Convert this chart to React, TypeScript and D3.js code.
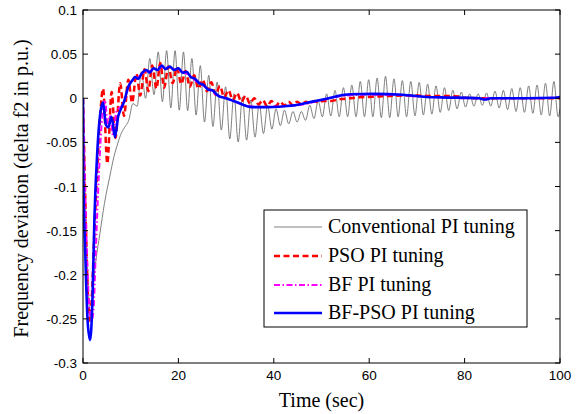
import React from 'react';
import * as d3 from 'd3';

const xTicks = [0, 20, 40, 60, 80, 100];
const xTickLabels = ['0', '20', '40', '60', '80', '100'];
const yTicks = [0.1, 0.05, 0, -0.05, -0.1, -0.15, -0.2, -0.25, -0.3];
const yTickLabels = ['0.1', '0.05', '0', '-0.05', '-0.1', '-0.15', '-0.2', '-0.25', '-0.3'];
const legendLabels = ['Conventional PI tuning', 'PSO PI tuning', 'BF PI tuning', 'BF-PSO PI tuning'];

// Conventional PI tuning (oscillating response: initial dip then successive peaks / troughs)
const convT = [0, 0.3, 0.8, 1.3, 1.6, 2.1, 2.8, 3.5, 4.5, 5.6, 6.5, 7.3, 8.0,
  8.71, 9.59, 10.47, 11.35, 12.24, 13.12, 14.0, 14.88, 15.77, 16.65, 17.53, 18.41, 19.3, 20.18,
  21.06, 21.94, 22.83, 23.71, 24.59, 25.47, 26.36, 27.24, 28.12, 29.0, 29.89, 30.77, 31.65, 32.53,
  33.42, 34.3, 35.18, 36.06, 36.95, 37.83, 38.71, 39.59, 40.48, 41.36, 42.24, 43.12, 44.01, 44.89,
  45.77, 46.65, 47.54, 48.42, 49.3, 50.18, 51.07, 51.95, 52.83, 53.71, 54.6, 55.48, 56.36, 57.24,
  58.13, 59.01, 59.89, 60.77, 61.66, 62.54, 63.42, 64.3, 65.19, 66.07, 66.95, 67.83, 68.72, 69.6,
  70.48, 71.36, 72.25, 73.13, 74.01, 74.89, 75.78, 76.66, 77.54, 78.42, 79.31, 80.19, 81.07, 81.95,
  82.84, 83.72, 84.6, 85.48, 86.37, 87.25, 88.13, 89.01, 89.9, 90.78, 91.66, 92.54, 93.43, 94.31,
  95.19, 96.07, 96.96, 97.84, 98.72, 99.6, 100];
const convV = [0, -0.07, -0.17, -0.235, -0.25, -0.215, -0.18, -0.155, -0.119, -0.089, -0.066, -0.051, -0.04,
  -0.033, -0.025, -0.006, -0.009, 0.03, 0.0, 0.045, 0.004, 0.0525, -0.004, 0.054, -0.011, 0.054, -0.0135,
  0.0525, -0.014, 0.045, -0.019, 0.037, -0.027, 0.026, -0.032, 0.0185, -0.036, 0.013, -0.046, 0.005, -0.0495,
  0.0015, -0.0475, -0.002, -0.044, -0.006, -0.04, -0.008, -0.035, -0.012, -0.031, -0.0135, -0.029, -0.015, -0.027,
  -0.015, -0.025, -0.008, -0.023, -0.003, -0.021, 0.005, -0.02, 0.009, -0.021, 0.012, -0.021, 0.015, -0.021,
  0.019, -0.021, 0.021, -0.021, 0.023, -0.022, 0.025, -0.022, 0.022, -0.021, 0.02, -0.021, 0.019, -0.02,
  0.018, -0.019, 0.016, -0.018, 0.014, -0.016, 0.012, -0.014, 0.009, -0.012, 0.007, -0.01, 0.005, -0.009,
  0.005, -0.008, 0.006, -0.009, 0.008, -0.011, 0.009, -0.013, 0.011, -0.015, 0.012, -0.016, 0.014, -0.017,
  0.015, -0.019, 0.017, -0.02, 0.019, -0.021, -0.012];

// PSO PI tuning
const psoT = [0, 0.5, 1.0, 1.4, 1.8, 2.4, 3.0, 3.6, 4.2, 5.1, 6.0, 6.8, 7.8, 8.6, 9.5, 10.3, 11.2, 12.0,
  12.9, 13.7, 14.5, 15.4, 16.2, 17.0, 17.9, 18.8, 19.7, 20.6, 21.5, 22.4, 23.3, 24.2, 25.1, 26.0, 26.9,
  27.8, 28.7, 29.6, 30.5, 31.4, 32.3, 33.2, 34.1, 35.0, 35.9, 36.8, 37.7, 38.6, 39.5, 40.4, 41.3, 42.2,
  43.1, 44.0, 44.9, 45.8, 46.7, 47.6, 48.5, 49.4, 50.3, 52, 54, 56, 58, 60, 62, 64, 67, 70, 73, 76, 79,
  80, 85, 90, 95, 100];
const psoV = [0, -0.12, -0.22, -0.252, -0.23, -0.15, -0.08, -0.02, 0.011, -0.074, 0.007, -0.045, 0.017,
  -0.02, 0.021, -0.005, 0.028, 0.003, 0.033, 0.008, 0.037, 0.011, 0.04, 0.012, 0.036, 0.017, 0.035, 0.016,
  0.031, 0.013, 0.026, 0.011, 0.021, 0.008, 0.018, 0.004, 0.014, 0.001, 0.009, -0.002, 0.006, -0.004, 0.003,
  -0.006, 0.0, -0.007, -0.002, -0.009, -0.003, -0.009, -0.004, -0.008, -0.004, -0.008, -0.004, -0.007, -0.004,
  -0.006, -0.003, -0.005, -0.003, -0.003, -0.001, 0.0, 0.001, 0.0015, 0.002, 0.0025, 0.003, 0.003, 0.0025,
  0.0025, 0.002, 0.0005, 0.0, 0.0, 0.0, 0.0];

// BF PI tuning
const bfT = [0, 0.3, 0.8, 1.3, 1.8, 2.2, 2.7, 3.3, 3.9, 4.6, 5.2, 5.7, 6.3, 7.0, 7.8, 8.6, 9.4, 10.3, 11.2,
  12.1, 13.0, 14.0, 15.0, 16.0, 17.0, 18.0, 19.0, 20.0, 21.0, 22.0, 23.0, 24.0, 25.0, 26.0, 27.0, 28.0,
  30, 32, 35, 38, 42, 45, 50, 55, 60, 65, 70, 75, 80, 85, 90, 95, 100];
const bfV = [0, -0.07, -0.17, -0.235, -0.252, -0.24, -0.17, -0.09, -0.03, -0.002, -0.03, -0.02, -0.042,
  -0.015, -0.01, -0.005, 0.012, 0.02, 0.022, 0.026, 0.03, 0.031, 0.033, 0.035, 0.035, 0.035, 0.033, 0.032,
  0.03, 0.027, 0.023, 0.018, 0.015, 0.011, 0.008, 0.004, 0.0, -0.004, -0.009, -0.01, -0.009, -0.008, -0.002,
  0.003, 0.004, 0.004, 0.002, 0.001, 0.0, 0.0, 0.0, 0.0, 0.001];

// BF-PSO PI tuning
const bfpsoT = [0, 0.05, 0.5, 1.0, 1.5, 2.0, 2.4, 3.0, 3.6, 4.2, 4.8, 5.3, 6.0, 6.7, 7.4, 7.8, 8.6, 9.5,
  10.3, 10.9, 11.6, 12.3, 13.3, 14.0, 14.8, 15.6, 16.5, 17.3, 18.2, 19.1, 20.0, 20.9, 21.7, 22.6, 23.5,
  24.4, 25.3, 26.2, 27.1, 28.3, 30, 32, 35.4, 38.2, 42.3, 44.4, 47, 50.3, 53, 56, 60.8, 67, 72, 75, 83,
  84.3, 85.5, 92.7, 99, 100];
const bfpsoV = [0, -0.08, -0.18, -0.255, -0.274, -0.225, -0.135, -0.06, -0.018, -0.005, -0.03, -0.033,
  -0.021, -0.044, -0.02, -0.014, -0.004, 0.013, 0.02, 0.024, 0.022, 0.028, 0.032, 0.029, 0.034, 0.032,
  0.037, 0.033, 0.036, 0.032, 0.034, 0.029, 0.03, 0.024, 0.022, 0.017, 0.015, 0.01, 0.009, 0.003, 0.0,
  -0.004, -0.01, -0.01, -0.009, -0.008, -0.005, -0.0015, 0.002, 0.0045, 0.005, 0.004, 0.0015, 0.001, 0.0,
  -0.0015, 0.0, 0.0, 0.0005, 0.0015];

export default function App() {
  const W = 584, H = 414;
  const L = 83, R = 560, T = 10, B = 363;
  const x = d3.scaleLinear().domain([0, 100]).range([L, R]);
  const y = d3.scaleLinear().domain([-0.3, 0.1]).range([B, T]);
  const mk = (ts: number[], vs: number[]) =>
    d3.line<number>().x((_, i) => x(ts[i])).y((v) => y(v)).curve(d3.curveMonotoneX)(vs) || '';

  const series = [
    { d: mk(convT, convV), stroke: '#606060', w: 0.8, dash: undefined as string | undefined },
    { d: mk(psoT, psoV), stroke: '#ff0000', w: 2.5, dash: '6,3.5' },
    { d: mk(bfT, bfV), stroke: '#ff00ff', w: 2, dash: '6,2.5,1.5,2.5' },
    { d: mk(bfpsoT, bfpsoV), stroke: '#0000ff', w: 2.6, dash: undefined },
  ];

  const tickLen = 5;
  const lgX = 264, lgY = 210, lgW = 263, lgH = 117;
  const rowY = [227, 256, 285, 313];

  return (
    <svg width={W} height={H} style={{ position: 'absolute', left: 0, top: 0, background: '#fff' }}>
      <rect x={0} y={0} width={W} height={H} fill="#fff" />
      <defs>
        <clipPath id="plotclip">
          <rect x={L} y={T - 2} width={R - L} height={B - T + 4} />
        </clipPath>
      </defs>
      <g clipPath="url(#plotclip)">
        {series.map((s, i) => (
          <path key={i} d={s.d} fill="none" stroke={s.stroke} strokeWidth={s.w}
            strokeDasharray={s.dash} strokeLinejoin="round" />
        ))}
      </g>
      {/* frame */}
      <rect x={L} y={T} width={R - L} height={B - T} fill="none" stroke="#000" strokeWidth={1} />
      {/* x ticks */}
      {xTicks.map((t, i) => (
        <g key={'xt' + i}>
          <line x1={x(t)} x2={x(t)} y1={B} y2={B - tickLen} stroke="#000" />
          <line x1={x(t)} x2={x(t)} y1={T} y2={T + tickLen} stroke="#000" />
          <text x={x(t)} y={B + 17} textAnchor="middle" fontFamily="'Liberation Sans', Arial, sans-serif"
            fontSize={13.5} fill="#000">{xTickLabels[i]}</text>
        </g>
      ))}
      {yTicks.map((t, i) => (
        <g key={'yt' + i}>
          <line x1={L} x2={L + tickLen} y1={y(t)} y2={y(t)} stroke="#000" />
          <line x1={R} x2={R - tickLen} y1={y(t)} y2={y(t)} stroke="#000" />
          <text x={L - 6} y={y(t) + 5} textAnchor="end" fontFamily="'Liberation Sans', Arial, sans-serif"
            fontSize={13.5} fill="#000">{yTickLabels[i]}</text>
        </g>
      ))}
      {/* axis titles */}
      <text x={(L + R) / 2} y={407} textAnchor="middle" fontFamily="'Liberation Serif', 'Times New Roman', serif"
        fontSize={20} fill="#000">Time (sec)</text>
      <text transform={`translate(28, ${(T + B) / 2 + 2}) rotate(-90)`} textAnchor="middle"
        fontFamily="'Liberation Serif', 'Times New Roman', serif" fontSize={20} fill="#000">
        Frequency deviation (delta f2 in p.u.)
      </text>
      {/* legend */}
      <rect x={lgX} y={lgY} width={lgW} height={lgH} fill="#fff" stroke="#000" strokeWidth={1} />
      {series.map((s, i) => (
        <g key={'lg' + i}>
          <line x1={274} x2={322} y1={rowY[i]} y2={rowY[i]} stroke={s.stroke} strokeWidth={s.w}
            strokeDasharray={s.dash} />
          <text x={328} y={rowY[i] + 6} fontFamily="'Liberation Serif', 'Times New Roman', serif"
            fontSize={20} fill="#000">{legendLabels[i]}</text>
        </g>
      ))}
    </svg>
  );
}
